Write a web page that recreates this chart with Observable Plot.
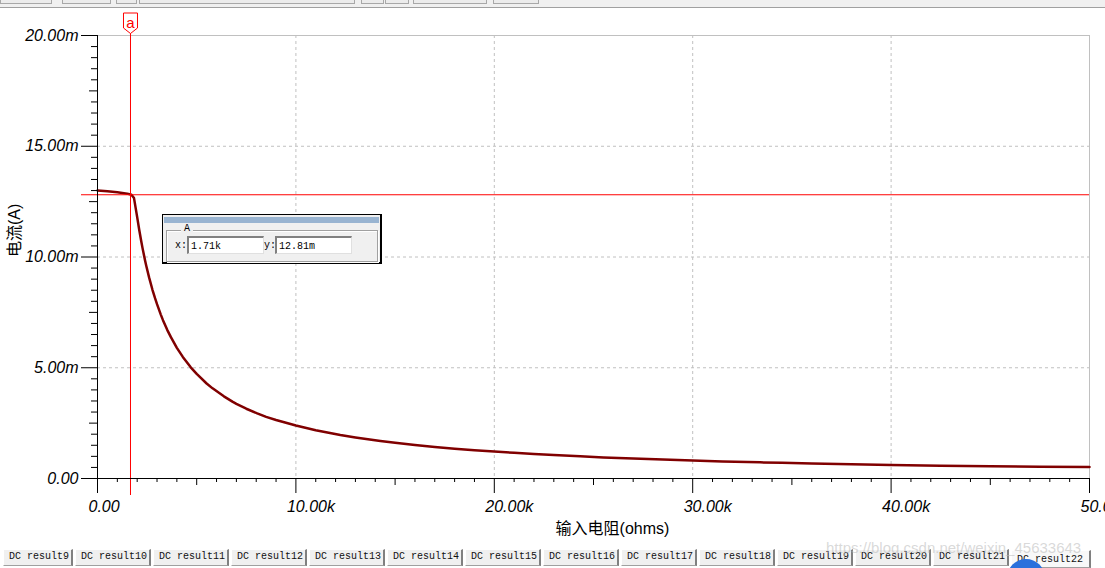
<!DOCTYPE html>
<html>
<head>
<meta charset="utf-8">
<script src="https://cdn.jsdelivr.net/npm/d3@7"></script>
<script src="https://cdn.jsdelivr.net/npm/@observablehq/plot@0.6"></script>
<style>
html,body{margin:0;padding:0;background:#fff;}
#page{position:relative;width:1105px;height:568px;overflow:hidden;background:#fff;font-family:"Liberation Sans",Arial,"Noto Sans CJK SC",sans-serif;}
#page svg{position:absolute;left:0;top:0;}
#toolbar{position:absolute;left:0;top:0;width:1105px;height:7px;background:#f0f0f0;border-bottom:1px solid #a0a0a0;}
.tbtn{position:absolute;top:-3px;height:7px;border:1px solid #a8a8a8;background:#ececec;box-sizing:border-box;}
#box{position:absolute;left:162px;top:214px;width:220px;height:50px;box-sizing:border-box;border:1px solid #000;border-right-width:2px;border-bottom-width:2px;background:#f0f0f0;font-family:"Liberation Mono","DejaVu Sans Mono",monospace;font-size:10px;color:#000;}
#box .bar{position:absolute;left:1px;right:1px;top:2px;height:6px;background:#99b4d1;}
#box .grp{position:absolute;left:3px;top:15px;width:212px;height:32px;box-sizing:border-box;border:1px solid #a0a0a0;box-shadow:inset 1px 1px 0 #fff,1px 1px 0 #fff;}
#box .glab{position:absolute;left:14px;top:-8px;background:#f0f0f0;padding:0 3px;}
#box .lab{position:absolute;top:25px;}
#box .fld{position:absolute;top:21px;width:77px;height:18px;box-sizing:border-box;background:#fff;border-top:2px solid #808080;border-left:2px solid #808080;border-right:1px solid #e0e0e0;border-bottom:1px solid #e0e0e0;padding:3px 0 0 2px;white-space:nowrap;}
#tabs{position:absolute;left:0;top:548px;width:1105px;height:20px;}
.tab{position:absolute;top:1px;height:17px;box-sizing:border-box;background:#f0f0f0;border:1px solid #fff;border-right:2px solid #808080;border-bottom:1px solid #a0a0a0;font-family:"Liberation Mono","DejaVu Sans Mono",monospace;font-size:10px;line-height:14px;padding-left:5px;color:#111;white-space:nowrap;}
.tab.active{top:2px;height:18px;background:#f8f8f8;line-height:18px;}
#wm{position:absolute;left:826px;top:539px;font-size:15px;color:rgba(185,185,185,0.55);white-space:nowrap;font-family:"Liberation Sans",Arial,sans-serif;}
#dotblue{position:absolute;left:1007px;top:559px;width:38px;height:38px;border-radius:50%;background:#2a70dc;}
</style>
</head>
<body>
<div id="page"></div>
<script>
// ---- data ----
const resistanceK = [0, 0.5, 1.0, 1.5, 1.71, 1.84, 2.0, 2.1, 2.2, 2.27, 2.4, 2.46, 2.6, 2.77, 2.9, 3.0, 3.19, 3.3, 3.52, 3.7, 4.0, 4.3, 4.7, 5.0, 5.5, 5.8, 6.37, 6.8, 7.0, 7.5, 8.05, 8.5, 9.0, 10, 11, 12.24, 13, 14.26, 15, 16, 17, 18, 19, 20, 21, 22, 23, 24.33, 25.5, 27, 28.5, 30, 31.5, 33.4, 34.5, 36, 38, 40, 42.5, 45, 47.5, 50];
const currentMA   = [13.00, 12.97, 12.92, 12.86, 12.81, 12.66, 11.80, 11.24, 10.73, 10.40, 9.83, 9.59, 9.08, 8.52, 8.14, 7.87, 7.40, 7.15, 6.70, 6.38, 5.90, 5.49, 5.02, 4.72, 4.29, 4.07, 3.71, 3.47, 3.37, 3.15, 2.94, 2.78, 2.64, 2.39, 2.18, 1.96, 1.85, 1.69, 1.61, 1.51, 1.42, 1.345, 1.275, 1.215, 1.16, 1.105, 1.057, 1.00, 0.953, 0.90, 0.853, 0.81, 0.772, 0.729, 0.707, 0.678, 0.643, 0.613, 0.58, 0.553, 0.53, 0.515];
const xMajorTicks = [0, 10, 20, 30, 40, 50];
const yMajorTicks = [0, 5, 10, 15, 20];
const cursorX = 1.71;
const cursorY = 12.81;
const cursorName = "a";
const cursorGroup = "A";
const cursorXLabel = "1.71k";
const cursorYLabel = "12.81m";
const xTitle = "输入电阻(ohms)";
const yTitle = "电流(A)";
const tabNames = ["DC result9","DC result10","DC result11","DC result12","DC result13","DC result14","DC result15","DC result16","DC result17","DC result18","DC result19","DC result20","DC result21","DC result22"];
const watermark = "https://blog.csdn.net/weixin_45633643";

const series = resistanceK.map((r, i) => ({r, i: currentMA[i]}));
const yMid = [2.5, 7.5, 12.5, 17.5];
const yMinor = d3.range(0, 20.01, 0.5).filter(v => v % 2.5 !== 0);
const xMid = [5, 15, 25, 35, 45];
const xMinor = d3.range(0, 50.5, 1).filter(v => v % 5 !== 0);
const fmtY = d => d === 0 ? "0.00" : d.toFixed(2) + "m";
const fmtX = d => d === 0 ? "0.00" : d.toFixed(2) + "k";
const FONT = '"Liberation Sans", Arial, "Noto Sans CJK SC", sans-serif';
const flagSymbol = {draw(ctx){ctx.moveTo(-7,-10);ctx.lineTo(7,-10);ctx.lineTo(7,5);ctx.lineTo(0,10.5);ctx.lineTo(-7,5);ctx.closePath();}};

const chart = Plot.plot({
  width: 1105, height: 568,
  marginLeft: 97, marginRight: 16, marginTop: 35, marginBottom: 90,
  x: {domain: [0, 50]},
  y: {domain: [0, 20]},
  style: {background: "transparent", fontFamily: FONT, overflow: "visible", color: "#000"},
  marks: [
    Plot.gridX(xMajorTicks.filter(v => v > 0 && v < 50), {stroke: "#c0c0c0", strokeOpacity: 1, strokeDasharray: "3,3"}),
    Plot.gridY(yMajorTicks.filter(v => v > 0 && v < 20), {stroke: "#c0c0c0", strokeOpacity: 1, strokeDasharray: "3,3"}),
    Plot.ruleY([20], {stroke: "#c0c0c0"}),
    Plot.ruleX([50], {stroke: "#c0c0c0"}),
    Plot.line(series, {x: "r", y: "i", stroke: "#800000", strokeWidth: 2.5}),
    Plot.ruleY([cursorY], {stroke: "#ff0000", insetLeft: -16}),
    Plot.ruleX([cursorX], {stroke: "#ff0000", insetTop: -2, insetBottom: -17, dx: -0.93}),
    Plot.ruleX([0], {stroke: "#000"}),
    Plot.ruleY([0], {stroke: "#000"}),
    // tick marks
    Plot.axisY({ticks: yMajorTicks, tickSize: 16, fill: "none", stroke: "#000", label: null}),
    Plot.axisY({ticks: yMid, tickSize: 8, fill: "none", stroke: "#000", label: null}),
    Plot.axisY({ticks: yMinor, tickSize: 6, fill: "none", stroke: "#000", label: null}),
    Plot.axisX({ticks: xMajorTicks, tickSize: 15, fill: "none", stroke: "#000", label: null}),
    Plot.axisX({ticks: xMid, tickSize: 7, fill: "none", stroke: "#000", label: null}),
    Plot.axisX({ticks: xMinor, tickSize: 4, fill: "none", stroke: "#000", label: null}),
    // tick labels
    Plot.axisY({ticks: yMajorTicks, tickSize: 0, tickPadding: 19, tickFormat: fmtY, fontSize: 16, fontStyle: "italic", fill: "#000", label: null}),
    Plot.axisX({ticks: xMajorTicks, tickSize: 0, tickPadding: 22, tickFormat: fmtX, fontSize: 16, fontStyle: "italic", fill: "#000", textAnchor: "start", dx: -9, label: null}),
    // axis titles
    Plot.text([xTitle], {text: d => d, frameAnchor: "bottom", lineAnchor: "middle", dx: 19, dy: 50, fontSize: 16, fill: "#000"}),
    Plot.text([yTitle], {text: d => d, frameAnchor: "left", lineAnchor: "middle", dx: -83, rotate: -90, fontSize: 16, fill: "#000"}),
    // cursor flag
    Plot.dot([cursorX], {x: d => d, frameAnchor: "top", dx: -0.93, dy: -12.5, symbol: flagSymbol, stroke: "#ff0000", fill: "#fff", strokeWidth: 1}),
    Plot.text([cursorX], {x: d => d, frameAnchor: "top", lineAnchor: "middle", dx: -0.93, dy: -12, text: () => cursorName, fill: "#ff0000", fontSize: 15})
  ]
});

const page = document.getElementById("page");
page.appendChild(chart);

// toolbar strip at top
const tb = document.createElement("div");
tb.id = "toolbar";
[[0,52],[62,49],[116,21],[139,216],[361,23],[385,24],[413,74],[493,46]].forEach(([l,w]) => {
  const b = document.createElement("div"); b.className = "tbtn"; b.style.left = l + "px"; b.style.width = w + "px"; tb.appendChild(b);
});
page.appendChild(tb);

// cursor readout box
const box = document.createElement("div");
box.id = "box";
box.innerHTML = `<div class="bar"></div><div class="grp"><span class="glab">${cursorGroup}</span></div>
<span class="lab" style="left:12px">x:</span><div class="fld" style="left:24px">${cursorXLabel}</div>
<span class="lab" style="left:101px">y:</span><div class="fld" style="left:112px">${cursorYLabel}</div>`;
page.appendChild(box);

// tabs
const tabs = document.createElement("div");
tabs.id = "tabs";
let left = 3;
tabNames.forEach((name, k) => {
  const t = document.createElement("div");
  const last = k === tabNames.length - 1;
  t.className = "tab" + (last ? " active" : "");
  const w = k === 0 ? 70 : (last ? 80 : 76);
  t.style.left = left + "px"; t.style.width = w + "px";
  t.textContent = name;
  tabs.appendChild(t);
  left += w + 2;
});
page.appendChild(tabs);

const wm = document.createElement("div"); wm.id = "wm"; wm.textContent = watermark; page.appendChild(wm);
const db = document.createElement("div"); db.id = "dotblue"; page.appendChild(db);
</script>
</body>
</html>
